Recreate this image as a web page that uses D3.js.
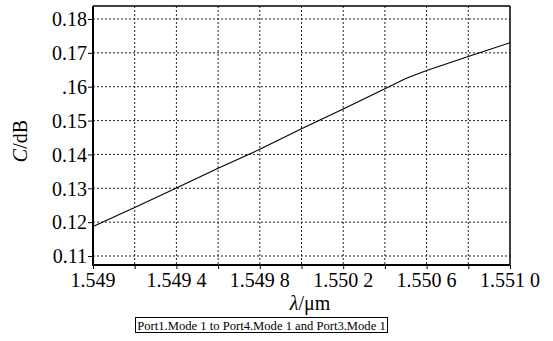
<!DOCTYPE html>
<html><head><meta charset="utf-8">
<script src="https://cdn.jsdelivr.net/npm/d3@7"></script>
<style>body{margin:0;background:#fff}svg{display:block}svg text{font-family:"Liberation Serif","Times New Roman",serif}</style>
</head><body>
<svg id="c" width="553" height="341"></svg>
<script>
const wavelength = [1.5490,1.5492,1.5494,1.5496,1.5498,1.5500,1.5502,1.5504,1.5505,1.5506,1.5508,1.5510];
const coupling   = [0.1187,0.1243,0.1301,0.1359,0.1415,0.1476,0.1534,0.1594,0.1624,0.1648,0.1689,0.1730];
const xGrid = [1.5490,1.5492,1.5494,1.5496,1.5498,1.5500,1.5502,1.5504,1.5506,1.5508,1.5510];
const xTickVals = [1.5490,1.5494,1.5498,1.5502,1.5506,1.5510];
const xTickLabels = ["1.549","1.549 4","1.549 8","1.550 2","1.550 6","1.551 0"];
const yTickVals = [0.11,0.12,0.13,0.14,0.15,0.16,0.17,0.18];
const yTickLabels = ["0.11","0.12","0.13","0.14","0.15",".16","0.17","0.18"];
const legendText = "Port1.Mode 1 to Port4.Mode 1 and Port3.Mode 1";

const svg = d3.select("#c");
const L=93, R=510, T=6, B=265;
const x = d3.scaleLinear().domain([1.549,1.551]).range([L,R]);
const y = d3.scaleLinear().domain([0.11,0.18]).range([256,19]);

// grid
const g = svg.append("g");
g.selectAll("line.vx").data(xGrid.slice(1,-1)).enter().append("line")
 .attr("x1",d=>x(d)).attr("x2",d=>x(d)).attr("y1",T).attr("y2",B)
 .attr("stroke","#222").attr("stroke-width",1).attr("stroke-dasharray","2,2");
g.selectAll("line.hy").data(yTickVals).enter().append("line")
 .attr("x1",L).attr("x2",R).attr("y1",d=>y(d)).attr("y2",d=>y(d))
 .attr("stroke","#222").attr("stroke-width",1).attr("stroke-dasharray","2,2");

// data line
svg.append("path").datum(wavelength.map((w,i)=>[w,coupling[i]]))
 .attr("d",d3.line().x(d=>x(d[0])).y(d=>y(d[1])))
 .attr("fill","none").attr("stroke","#000").attr("stroke-width",1.1);

// frame
svg.append("line").attr("x1",L).attr("x2",R).attr("y1",T).attr("y2",T).attr("stroke","#000").attr("stroke-width",1.5);
svg.append("line").attr("x1",R).attr("x2",R).attr("y1",T).attr("y2",B).attr("stroke","#000").attr("stroke-width",1.5);

// axes
const xAxis = d3.axisBottom(x).tickValues(xGrid).tickSize(4).tickFormat("");
const ax = svg.append("g").attr("transform",`translate(0,${B})`).call(xAxis);
ax.select(".domain").attr("d",`M${L},0H${R}`).attr("stroke-width",2);
ax.selectAll(".tick line").attr("stroke-width",1);
const yAxis = d3.axisLeft(y).tickValues(yTickVals).tickSize(5).tickFormat((d,i)=>yTickLabels[i]);
const ay = svg.append("g").attr("transform",`translate(${L},0)`).call(yAxis);
ay.attr("font-family",null).attr("font-size",null);
ay.select(".domain").attr("d",`M0,${T}V${B+1}`).attr("stroke-width",2);
ay.selectAll(".tick text").style("font-size","20px").attr("fill","#000").attr("x",-6).attr("dy","0.34em");

// x tick labels
svg.append("g").selectAll("text").data(xTickVals).enter().append("text")
 .attr("x",d=>x(d)).attr("y",287).attr("text-anchor","middle")
 .style("font-size","20px").attr("fill","#000")
 .text((d,i)=>xTickLabels[i]);

// axis titles
const xt = svg.append("text").attr("x",310).attr("y",310).attr("text-anchor","middle")
 .style("font-size","20px").attr("fill","#000");
xt.append("tspan").style("font-style","italic").text("λ");
xt.append("tspan").text("/μm");
const yt = svg.append("text").attr("transform","translate(27,141) rotate(-90)").attr("text-anchor","middle")
 .style("font-size","20px").attr("fill","#000");
yt.append("tspan").style("font-style","italic").text("C");
yt.append("tspan").text("/dB");

// legend
svg.append("rect").attr("x",135.5).attr("y",317.5).attr("width",252).attr("height",15)
 .attr("fill","#fff").attr("stroke","#000").attr("stroke-width",1);
svg.append("text").attr("x",261.5).attr("y",329.5).attr("text-anchor","middle")
 .style("font-size","12.6px").attr("fill","#000").text(legendText);
</script>
</body></html>
